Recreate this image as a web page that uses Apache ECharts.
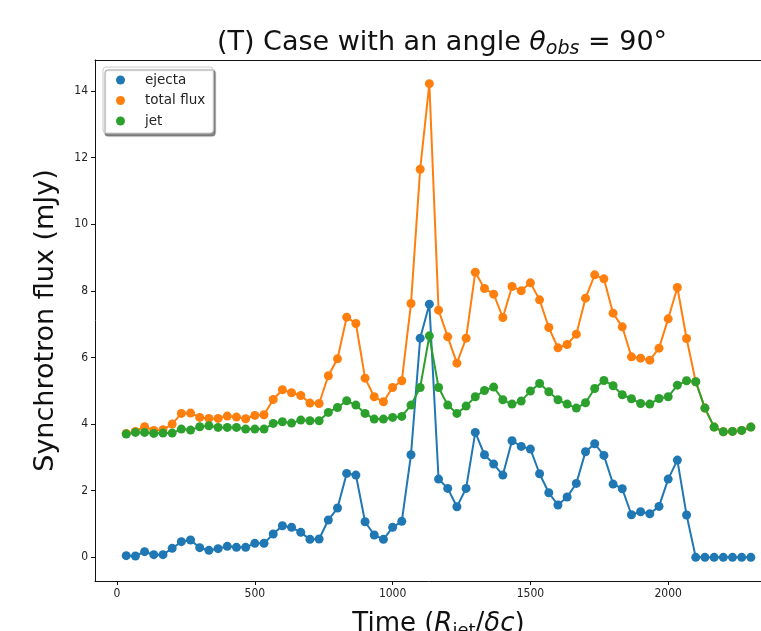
<!DOCTYPE html>
<html>
<head>
<meta charset="utf-8">
<script src="https://cdn.jsdelivr.net/npm/echarts@6/dist/echarts.min.js"></script>
<style>
html,body{margin:0;padding:0;background:#fff;}
#chart{width:761px;height:631px;}
</style>
</head>
<body>
<div id="chart"></div>
<script>
// ---- data ----
const times = [33.3, 66.7, 100, 133.3, 166.7, 200, 233.3, 266.7, 300, 333.3,
  366.7, 400, 433.3, 466.7, 500, 533.3, 566.7, 600, 633.3, 666.7,
  700, 733.3, 766.7, 800, 833.3, 866.7, 900, 933.3, 966.7, 1000,
  1033.3, 1066.7, 1100, 1133.3, 1166.7, 1200, 1233.3, 1266.7, 1300, 1333.3,
  1366.7, 1400, 1433.3, 1466.7, 1500, 1533.3, 1566.7, 1600, 1633.3, 1666.7,
  1700, 1733.3, 1766.7, 1800, 1833.3, 1866.7, 1900, 1933.3, 1966.7, 2000,
  2033.3, 2066.7, 2100, 2133.3, 2166.7, 2200, 2233.3, 2266.7, 2300];

const ejecta = [0.05, 0.04, 0.17, 0.08, 0.08, 0.27, 0.47, 0.52, 0.29, 0.21,
  0.26, 0.33, 0.30, 0.30, 0.42, 0.42, 0.70, 0.95, 0.90, 0.75,
  0.54, 0.55, 1.12, 1.48, 2.52, 2.47, 1.07, 0.67, 0.54, 0.90,
  1.08, 3.08, 6.58, 7.60, 2.35, 2.07, 1.52, 2.07, 3.75, 3.08,
  2.80, 2.47, 3.50, 3.33, 3.25, 2.51, 1.94, 1.57, 1.81, 2.22,
  3.17, 3.41, 3.06, 2.20, 2.06, 1.28, 1.37, 1.31, 1.53, 2.35,
  2.92, 1.27, 0, 0, 0, 0, 0, 0, 0];

const totalFlux = [3.72, 3.78, 3.92, 3.81, 3.83, 4.00, 4.32, 4.33, 4.20, 4.17,
  4.17, 4.24, 4.21, 4.16, 4.26, 4.28, 4.74, 5.03, 4.94, 4.86,
  4.63, 4.62, 5.45, 5.96, 7.21, 7.02, 5.38, 4.82, 4.67, 5.10,
  5.30, 7.62, 11.65, 14.22, 7.42, 6.62, 5.83, 6.58, 8.56, 8.07,
  7.90, 7.20, 8.13, 8.00, 8.24, 7.73, 6.90, 6.29, 6.39, 6.70,
  7.78, 8.48, 8.36, 7.33, 6.92, 6.02, 5.98, 5.92, 6.28, 7.16,
  8.10, 6.57, 5.27, 4.48, 3.91, 3.77, 3.78, 3.81, 3.91];

const jet = [3.70, 3.75, 3.75, 3.72, 3.73, 3.73, 3.85, 3.82, 3.92, 3.95,
  3.90, 3.90, 3.90, 3.85, 3.85, 3.85, 4.02, 4.07, 4.03, 4.12,
  4.10, 4.10, 4.35, 4.50, 4.70, 4.57, 4.32, 4.15, 4.15, 4.20,
  4.23, 4.57, 5.10, 6.65, 5.10, 4.57, 4.32, 4.54, 4.82, 5.01,
  5.11, 4.73, 4.60, 4.69, 4.99, 5.22, 4.97, 4.73, 4.60, 4.48,
  4.64, 5.07, 5.31, 5.15, 4.88, 4.76, 4.62, 4.60, 4.77, 4.82,
  5.17, 5.30, 5.27, 4.48, 3.91, 3.77, 3.78, 3.81, 3.91];

const seriesNames = ['ejecta', 'total flux', 'jet'];
const xTicks = [0, 500, 1000, 1500, 2000];
const yTicks = [0, 2, 4, 6, 8, 10, 12, 14];

// ---- chart ----
const colors = ['#1f77b4', '#ff7f0e', '#2ca02c'];
const FONT = 'DejaVu Sans';
const chart = echarts.init(document.getElementById('chart'), null, {renderer: 'canvas'});

function mk(name, vals, color) {
  return {
    name: name,
    type: 'line',
    xAxisIndex: 0,
    yAxisIndex: 0,
    data: times.map((t, i) => [t, vals[i]]),
    symbol: 'circle',
    symbolSize: 9,
    showSymbol: true,
    itemStyle: {color: color},
    lineStyle: {color: color, width: 2},
    emphasis: {disabled: true},
    animation: false
  };
}

const spine = {show: true, onZero: false, lineStyle: {color: '#111', width: 1}};

chart.setOption({
  backgroundColor: '#fff',
  animation: false,
  title: {
    text: '{a|(T) Case with an angle }{i|θ}{s|obs}{a| = 90°}',
    left: 437,
    textAlign: 'center',
    top: 21,
    textStyle: {
      fontWeight: 'normal',
      rich: {
        a: {fontFamily: FONT, fontSize: 27, fontWeight: 'normal', color: '#111', lineHeight: 33},
        i: {fontFamily: FONT, fontSize: 27, fontWeight: 'normal', fontStyle: 'italic', color: '#111', lineHeight: 33},
        s: {fontFamily: FONT, fontSize: 19, fontWeight: 'normal', fontStyle: 'italic', color: '#111', lineHeight: 20, padding: [14, 0, 0, 0]}
      }
    }
  },
  legend: {
    data: seriesNames,
    orient: 'vertical',
    left: 103,
    top: 67,
    icon: 'circle',
    itemWidth: 9,
    itemHeight: 9,
    itemGap: 6.5,
    padding: [6, 8, 5, 13],
    backgroundColor: '#fff',
    borderColor: '#cccccc',
    borderWidth: 1,
    borderRadius: 3,
    shadowColor: 'rgba(0,0,0,0.45)',
    shadowBlur: 1,
    shadowOffsetX: 2,
    shadowOffsetY: 3,
    formatter: function (name) { return '{t|' + name + '}'; },
    textStyle: {
      fontFamily: FONT, fontSize: 13.5, color: '#222', lineHeight: 14,
      rich: {t: {fontFamily: FONT, fontSize: 13.5, color: '#222', lineHeight: 14, padding: [0, 0, 0, 15]}}
    }
  },
  grid: {
    show: false,
    left: 95,
    top: 60,
    width: 687,
    height: 521,
    outerBoundsMode: 'none',
    containLabel: false
  },
  xAxis: [{
    type: 'value',
    min: -80,
    max: 2413,
    position: 'bottom',
    name: '{a|Time (}{i|R}{s|jet}{a|/}{i|δc}{a|)}',
    nameLocation: 'middle',
    nameGap: 27,
    nameTextStyle: {
      verticalAlign: 'top',
      rich: {
        a: {fontFamily: FONT, fontSize: 26, color: '#111', lineHeight: 32},
        i: {fontFamily: FONT, fontSize: 26, fontStyle: 'italic', color: '#111', lineHeight: 32},
        s: {fontFamily: FONT, fontSize: 18, color: '#111', lineHeight: 20, padding: [14, 0, 0, 0]}
      }
    },
    axisLine: spine,
    axisTick: {show: true, inside: false, length: 4, customValues: xTicks, lineStyle: {color: '#111', width: 1}},
    axisLabel: {show: true, customValues: xTicks, margin: 7, fontFamily: 'DejaVu Sans Condensed', fontSize: 12, color: '#222',
      formatter: function (v) { return String(v); }},
    splitLine: {show: false}
  }, {
    type: 'value',
    min: -80,
    max: 2413,
    position: 'top',
    axisLine: spine,
    axisTick: {show: false},
    axisLabel: {show: false},
    splitLine: {show: false}
  }],
  yAxis: {
    type: 'value',
    min: -0.71,
    max: 14.93,
    position: 'left',
    name: 'Synchrotron flux (mJy)',
    nameLocation: 'middle',
    nameRotate: 90,
    nameGap: 36,
    nameTextStyle: {fontFamily: FONT, fontSize: 27, color: '#111'},
    axisLine: spine,
    axisTick: {show: true, inside: false, length: 4, customValues: yTicks, lineStyle: {color: '#111', width: 1}},
    axisLabel: {show: true, customValues: yTicks, margin: 7, fontFamily: 'DejaVu Sans Condensed', fontSize: 12, color: '#222',
      formatter: function (v) { return String(v); }},
    splitLine: {show: false}
  },
  series: [
    mk(seriesNames[0], ejecta, colors[0]),
    mk(seriesNames[1], totalFlux, colors[1]),
    mk(seriesNames[2], jet, colors[2])
  ]
});
</script>
</body>
</html>
